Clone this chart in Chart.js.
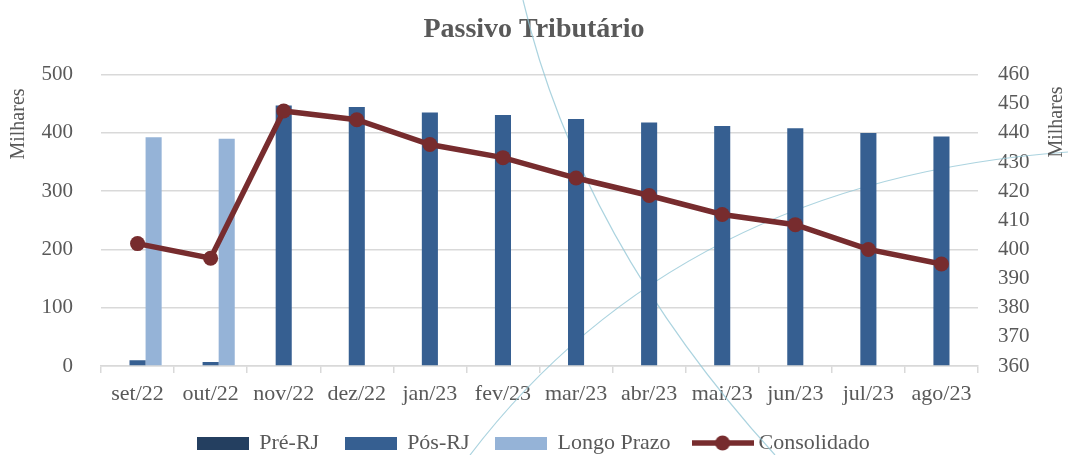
<!DOCTYPE html>
<html lang="pt-BR">
<head>
    <meta charset="UTF-8">
    <title>Passivo Tributário</title>
    <script src="https://cdn.jsdelivr.net/npm/chart.js"></script>
    <style>
        body { margin: 0; background: #fff; }
        .chart-container { position: relative; width: 1068px; height: 455px; }
    </style>
</head>
<body>
    <div class="chart-container">
        <canvas id="passivoChart"></canvas>
    </div>

    <script>
        // dados (em milhares)
        const meses = ['set/22', 'out/22', 'nov/22', 'dez/22', 'jan/23', 'fev/23', 'mar/23', 'abr/23', 'mai/23', 'jun/23', 'jul/23', 'ago/23'];
        const preRJ = [0, 0, 0, 0, 0, 0, 0, 0, 0, 0, 0, 0];
        const posRJ = [10, 7, 447, 444.5, 435, 430.5, 424, 418, 412, 408, 400, 394];
        const longoPrazo = [392.5, 390, 0, 0, 0, 0, 0, 0, 0, 0, 0, 0];
        const consolidado = [402, 397, 447.5, 444.5, 436, 431.5, 424.5, 418.5, 412, 408.5, 400, 395];
        const ticksEsq = [0, 100, 200, 300, 400, 500];
        const ticksDir = [360, 370, 380, 390, 400, 410, 420, 430, 440, 450, 460];

        const corTexto = '#595959';
        const corGrade = '#d9d9d9';
        const fonte = '"Liberation Serif", "DejaVu Serif", serif';

        // icones da legenda
        function iconeBarra(cor) {
            const c = document.createElement('canvas');
            c.width = 52; c.height = 13;
            const g = c.getContext('2d');
            g.fillStyle = cor;
            g.fillRect(0, 0, 52, 13);
            return c;
        }
        function iconeLinha(cor) {
            const c = document.createElement('canvas');
            c.width = 62; c.height = 16;
            const g = c.getContext('2d');
            g.strokeStyle = cor;
            g.lineWidth = 5.5;
            g.beginPath(); g.moveTo(0, 8); g.lineTo(62, 8); g.stroke();
            g.fillStyle = cor;
            g.beginPath(); g.arc(31, 8, 7.5, 0, Math.PI * 2); g.fill();
            return c;
        }

        // titulos "Milhares" e linhas decorativas do fundo
        const extras = {
            id: 'extras',
            beforeDatasetsDraw(chart) {
                const ctx = chart.ctx;
                ctx.save();
                ctx.strokeStyle = 'rgba(150, 200, 215, 0.8)';
                ctx.lineWidth = 1.2;
                ctx.beginPath(); ctx.moveTo(523, 0); ctx.quadraticCurveTo(580, 240, 775, 455); ctx.stroke();
                ctx.beginPath(); ctx.moveTo(470, 455); ctx.quadraticCurveTo(680, 180, 1068, 152); ctx.stroke();
                ctx.restore();
            },
            afterDraw(chart) {
                const ctx = chart.ctx;
                ctx.save();
                ctx.fillStyle = corTexto;
                ctx.font = '20px ' + fonte;
                ctx.textAlign = 'center';
                ctx.textBaseline = 'middle';
                [[19, 124], [1057, 122]].forEach(([x, y]) => {
                    ctx.save();
                    ctx.translate(x, y);
                    ctx.rotate(-Math.PI / 2);
                    ctx.fillText('Milhares', 0, 0);
                    ctx.restore();
                });
                ctx.restore();
            }
        };

        const ctx = document.getElementById('passivoChart').getContext('2d');
        new Chart(ctx, {
            data: {
                labels: meses,
                datasets: [
                    {
                        type: 'bar',
                        label: 'Pré-RJ',
                        data: preRJ,
                        backgroundColor: '#243f60',
                        yAxisID: 'y',
                        order: 1,
                        barPercentage: 1,
                        categoryPercentage: 0.66
                    },
                    {
                        type: 'bar',
                        label: 'Pós-RJ',
                        data: posRJ,
                        backgroundColor: '#365f91',
                        yAxisID: 'y',
                        order: 1,
                        barPercentage: 1,
                        categoryPercentage: 0.66
                    },
                    {
                        type: 'bar',
                        label: 'Longo Prazo',
                        data: longoPrazo,
                        backgroundColor: '#95b3d7',
                        yAxisID: 'y',
                        order: 1,
                        barPercentage: 1,
                        categoryPercentage: 0.66
                    },
                    {
                        type: 'line',
                        label: 'Consolidado',
                        data: consolidado,
                        borderColor: '#772c2e',
                        backgroundColor: '#772c2e',
                        borderWidth: 5.5,
                        pointRadius: 7.5,
                        pointBackgroundColor: '#772c2e',
                        pointBorderWidth: 0,
                        tension: 0,
                        yAxisID: 'y1',
                        order: 0
                    }
                ]
            },
            options: {
                responsive: true,
                maintainAspectRatio: false,
                animation: false,
                layout: { padding: 0 },
                plugins: {
                    title: {
                        display: true,
                        text: 'Passivo Tributário',
                        color: corTexto,
                        font: { family: fonte, size: 28, weight: 'bold' },
                        padding: { top: 13, bottom: 28 }
                    },
                    legend: {
                        position: 'bottom',
                        maxHeight: 50,
                        labels: {
                            color: corTexto,
                            font: { family: fonte, size: 22 },
                            usePointStyle: true,
                            pointStyleWidth: 50,
                            padding: 27,
                            generateLabels(chart) {
                                const itens = Chart.defaults.plugins.legend.labels.generateLabels(chart);
                                itens.forEach((it) => {
                                    const ds = chart.data.datasets[it.datasetIndex];
                                    it.pointStyle = ds.type === 'line' ? iconeLinha(ds.borderColor) : iconeBarra(ds.backgroundColor);
                                });
                                return itens.sort((a, b) => a.datasetIndex - b.datasetIndex);
                            }
                        }
                    },
                    tooltip: { enabled: false }
                },
                scales: {
                    x: {
                        afterFit(scale) { scale.height = 39; },
                        grid: { drawOnChartArea: false, drawTicks: true, tickLength: 7, color: corGrade, lineWidth: 1.5 },
                        border: { color: corGrade, width: 1.5 },
                        ticks: { color: corTexto, font: { family: fonte, size: 22 }, padding: 8, maxRotation: 0, autoSkip: false }
                    },
                    y: {
                        position: 'left',
                        min: 0,
                        max: 500,
                        afterFit(scale) { scale.width = 101; },
                        afterBuildTicks(scale) { scale.ticks = ticksEsq.map(v => ({ value: v })); },
                        grid: { color: corGrade, lineWidth: 1.5, drawTicks: false },
                        border: { display: false },
                        ticks: { color: corTexto, font: { family: fonte, size: 21 }, padding: 28 }
                    },
                    y1: {
                        position: 'right',
                        min: 360,
                        max: 460,
                        afterFit(scale) { scale.width = 90; },
                        afterBuildTicks(scale) { scale.ticks = ticksDir.map(v => ({ value: v })); },
                        grid: { drawOnChartArea: false, drawTicks: false },
                        border: { display: false },
                        ticks: { color: corTexto, font: { family: fonte, size: 21 }, padding: 20 }
                    }
                }
            },
            plugins: [extras]
        });
    </script>
</body>
</html>
